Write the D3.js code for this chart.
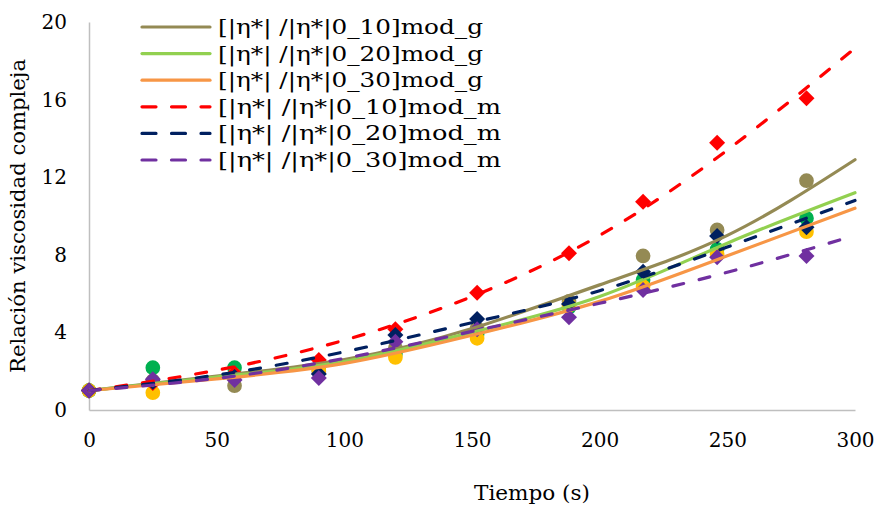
<!DOCTYPE html>
<html>
<head>
<meta charset="utf-8">
<script src="https://cdn.jsdelivr.net/npm/d3@7"></script>
<style>
  body { margin: 0; background: #fff; }
  text { font-family: "DejaVu Serif", serif; fill: #000; }
</style>
</head>
<body>
<svg width="877" height="506"></svg>
<script>
// measured times (s)
var times = [0, 25, 57, 90, 120, 152, 188, 217, 246, 281];
// experimental ratios
var exp_g10 = [1, 1.5, 1.25, 2.0, 3.2, 4.2, 5.6, 7.94, 9.28, 11.82];
var exp_g20 = [1, 2.18, 2.18, 2.23, 2.9, 3.9, 5.3, 6.7, 8.28, 9.88];
var exp_g30 = [1, 0.89, 1.8, 2.06, 2.71, 3.69, 5.4, 6.36, 8.04, 9.19];
var exp_m10 = [1, 1.39, 1.89, 2.58, 4.16, 6.05, 8.08, 10.74, 13.78, 16.07];
var exp_m20 = [1, 1.45, 1.7, 1.85, 3.87, 4.69, 5.46, 7.13, 8.97, 9.42];
var exp_m30 = [1, 1.58, 1.55, 1.65, 3.52, 4.16, 4.78, 6.19, 7.87, 7.94];

// model curves, read at these times
var modelTimes = [0, 50, 100, 150, 200, 250, 300];
var mod_g10 = [1, 1.75, 2.6, 4.2, 6.45, 9.0, 12.9];
var mod_g20 = [1, 1.7, 2.5, 4.0, 5.85, 8.6, 11.2];
var mod_g30 = [1, 1.6, 2.4, 3.85, 5.6, 7.95, 10.4];
var mod_m10 = [1, 2.05, 3.6, 5.85, 9.0, 13.4, 18.65];
var mod_m20 = [1, 1.8, 3.0, 4.5, 6.15, 8.4, 10.8];
var mod_m30 = [1, 1.63, 2.66, 4.05, 5.5, 7.1, 9.0];

var legendLabels = [
  "[|η*| /|η*|0_10]mod_g", "[|η*| /|η*|0_20]mod_g", "[|η*| /|η*|0_30]mod_g",
  "[|η*| /|η*|0_10]mod_m", "[|η*| /|η*|0_20]mod_m", "[|η*| /|η*|0_30]mod_m"
];
var xTicks = [0, 50, 100, 150, 200, 250, 300];
var yTicks = [0, 4, 8, 12, 16, 20];

var lineColors = ["#948A54", "#92D050", "#F79646", "#FF0000", "#002060", "#7030A0"];
var markColors = ["#948A54", "#00B050", "#FFC000", "#FF0000", "#002060", "#7030A0"];

var svg = d3.select("svg");
var margin = {left: 89, right: 22, top: 22, bottom: 96};
var width = 877 - margin.left - margin.right,
    height = 506 - margin.top - margin.bottom;

var g = svg.append("g")
  .attr("transform", "translate(" + margin.left + "," + margin.top + ")");

var x = d3.scaleLinear().domain([0, 300]).range([0, width]);
var y = d3.scaleLinear().domain([0, 20]).range([height, 0]);

// axes
var xAxis = g.append("g")
  .attr("transform", "translate(0," + height + ")")
  .call(d3.axisBottom(x).tickValues(xTicks).tickSize(0).tickPadding(23));
var yAxis = g.append("g")
  .call(d3.axisLeft(y).tickValues(yTicks).tickSize(0).tickPadding(22));
[xAxis, yAxis].forEach(function (a) {
  a.select(".domain").attr("stroke", "#BFBFBF").attr("stroke-width", 1.5);
  a.selectAll("text").style("font-size", "20px").attr("font-family", null);
});

// axis titles
svg.append("text")
  .attr("x", 532).attr("y", 500)
  .attr("text-anchor", "middle")
  .style("font-size", "20px")
  .attr("textLength", 116)
  .attr("lengthAdjust", "spacingAndGlyphs")
  .text("Tiempo (s)");
svg.append("text")
  .attr("transform", "translate(25," + (margin.top + height / 2) + ") rotate(-90)")
  .attr("text-anchor", "middle")
  .style("font-size", "20px")
  .attr("textLength", 314)
  .attr("lengthAdjust", "spacingAndGlyphs")
  .text("Relación viscosidad compleja");

var expSeries = [exp_g10, exp_g20, exp_g30, exp_m10, exp_m20, exp_m30];
var modSeries = [mod_g10, mod_g20, mod_g30, mod_m10, mod_m20, mod_m30];

var line = d3.line()
  .x(function (d, i) { return x(modelTimes[i]); })
  .y(function (d) { return y(d); })
  .curve(d3.curveNatural);

// markers
expSeries.forEach(function (s, k) {
  var pts = g.append("g").selectAll("path")
    .data(s)
    .enter()
    .append("path")
      .attr("transform", function (d, i) { return "translate(" + x(times[i]) + "," + y(d) + ")"; })
      .attr("fill", markColors[k]);
  if (k < 3) {
    pts.attr("d", d3.symbol().type(d3.symbolCircle).size(170));
  } else {
    pts.attr("d", "M0,-8L8,0L0,8L-8,0Z");
  }
});

// model lines
modSeries.forEach(function (s, k) {
  g.append("path")
    .datum(s)
    .attr("d", line)
    .attr("fill", "none")
    .attr("stroke", lineColors[k])
    .attr("stroke-width", 3.2)
    .attr("stroke-linecap", "round")
    .attr("stroke-dasharray", k < 3 ? null : "11,16");
});

// legend
var legend = svg.append("g").attr("transform", "translate(142,27)");
legendLabels.forEach(function (lab, k) {
  var row = legend.append("g").attr("transform", "translate(0," + (k * 26.6) + ")");
  row.append("line")
    .attr("x1", 0).attr("x2", 68)
    .attr("stroke", lineColors[k])
    .attr("stroke-width", 3.2)
    .attr("stroke-linecap", "round")
    .attr("stroke-dasharray", k < 3 ? null : "14,15.5");
  row.append("text")
    .attr("x", 76).attr("y", 7)
    .style("font-size", "20px")
    .attr("textLength", k < 3 ? 265 : 283)
    .attr("lengthAdjust", "spacingAndGlyphs")
    .text(lab);
});
</script>
</body>
</html>
